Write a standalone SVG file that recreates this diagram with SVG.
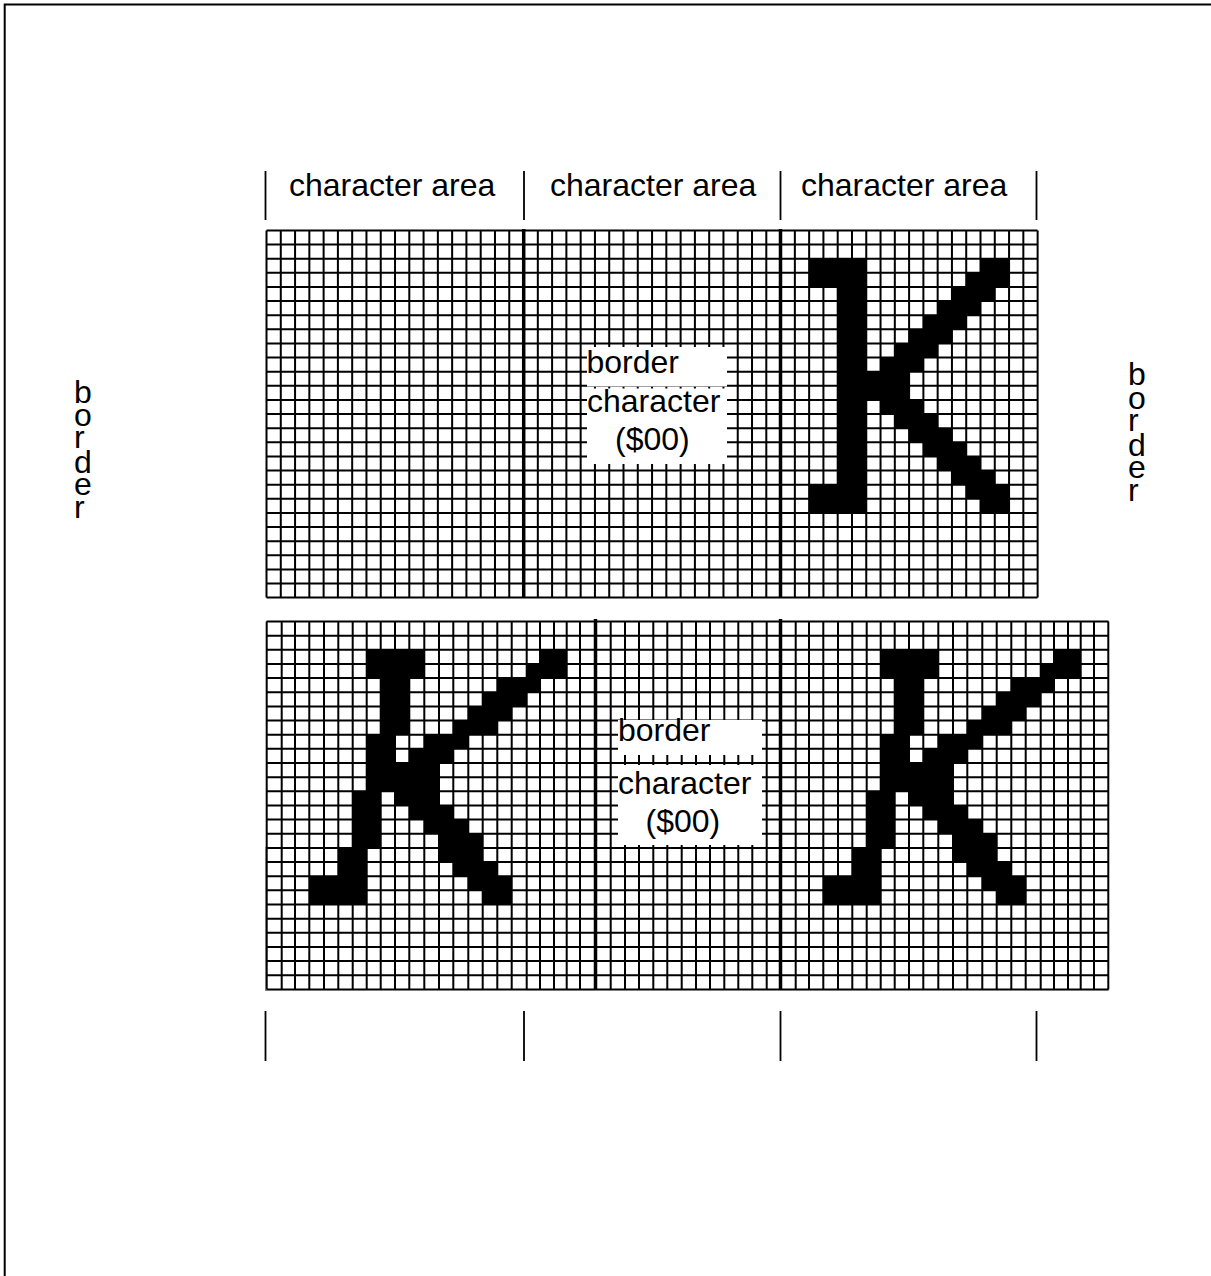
<svg xmlns="http://www.w3.org/2000/svg" width="1211" height="1276" viewBox="0 0 1211 1276">
<style>
text{font-family:"Liberation Sans",Arial,sans-serif;font-size:32px;fill:#000}
.grid{fill:none;stroke:#000;stroke-width:2}
.thick{fill:none;stroke:#000;stroke-width:3.5}
.tick{fill:none;stroke:#000;stroke-width:1.8}
</style>
<defs>
<path id="kTop" d="M4 2h2v18h-2zM2 2h4v2h-4zM2 18h4v2h-4zM14 2h2v1h-2zM13 3h3v1h-3zM12 4h3v1h-3zM11 5h3v1h-3zM10 6h3v1h-3zM9 7h3v1h-3zM8 8h3v1h-3zM7 9h3v1h-3zM4 10h5v2h-5zM7 12h3v1h-3zM8 13h3v1h-3zM9 14h3v1h-3zM10 15h3v1h-3zM11 16h3v1h-3zM12 17h3v1h-3zM13 18h3v1h-3zM14 19h2v1h-2z"/>
<path id="kSlant" d="M366.7 2H424.3V4H366.7zM540 2H566.7V3H540zM526.7 3H566.7V4H526.7zM380.7 4H409.3V8H380.7zM497.3 4H540V5H497.3zM482.7 5H526.7V6H482.7zM468.3 6H511.7V7H468.3zM453.3 7H497.3V8H453.3zM366.7 8H395V10H366.7zM424.3 8H468.3V9H424.3zM409.3 9H453.3V10H409.3zM366.7 10H439V12H366.7zM352.7 12H380.7V16H352.7zM395 12H439V13H395zM409.3 13H453.3V14H409.3zM424.3 14H468.3V15H424.3zM439 15H482.7V17H439zM338.3 16H366.7V18H338.3zM453.3 17H497.3V18H453.3zM309.3 18H366.7V20H309.3zM468.3 18H511.7V19H468.3zM482.7 19H511.7V20H482.7z"/>
</defs>
<path id="frame" d="M4.7 1276V4.5H1211" fill="none" stroke="#000" stroke-width="2"/>
<g id="top-grid">
<path class="grid" d="M266.5 230.5v367
m14.28-367v367m14.28-367v367m14.28-367v367m14.28-367v367m14.28-367v367m14.28-367v367m14.28-367v367m14.28-367v367m14.28-367v367
m14.28-367v367m14.28-367v367m14.28-367v367m14.28-367v367m14.28-367v367m14.28-367v367m14.28-367v367m14.28-367v367m14.28-367v367
m14.28-367v367m14.28-367v367m14.28-367v367m14.28-367v367m14.28-367v367m14.28-367v367m14.28-367v367m14.28-367v367m14.28-367v367
m14.28-367v367m14.28-367v367m14.28-367v367m14.28-367v367m14.28-367v367m14.28-367v367m14.28-367v367m14.28-367v367m14.28-367v367
m14.28-367v367m14.28-367v367m14.28-367v367m14.28-367v367m14.28-367v367m14.28-367v367m14.28-367v367m14.28-367v367m14.28-367v367
m14.28-367v367m14.28-367v367m14.28-367v367m14.28-367v367m14.28-367v367m14.28-367v367m14.28-367v367m14.28-367v367m14.28-367v367"/>
<path class="grid" d="M266.5 230.5h771
m-771 14.12h771m-771 14.12h771m-771 14.12h771m-771 14.12h771m-771 14.12h771m-771 14.12h771m-771 14.12h771m-771 14.12h771m-771 14.12h771m-771 14.12h771m-771 14.12h771m-771 14.12h771m-771 14.12h771
m-771 14.12h771m-771 14.12h771m-771 14.12h771m-771 14.12h771m-771 14.12h771m-771 14.12h771m-771 14.12h771m-771 14.12h771m-771 14.12h771m-771 14.12h771m-771 14.12h771m-771 14.12h771m-771 14.12h771"/>
<path class="thick" d="M523.7 229V598M780.5 229V598"/>
<use href="#kTop" transform="translate(780.5 230.5) scale(14.28 14.12)"/>
</g>
<g id="bottom-grid">
<path class="grid" d="M266.7 621.5V989.5M281.7 621.5V989.5M295 621.5V989.5M309.3 621.5V989.5M324 621.5V989.5M338.3 621.5V989.5M352.7 621.5V989.5M366.7 621.5V989.5M380.7 621.5V989.5M395 621.5V989.5M409.3 621.5V989.5M424.3 621.5V989.5M439 621.5V989.5M453.3 621.5V989.5M468.3 621.5V989.5M482.7 621.5V989.5M497.3 621.5V989.5M511.7 621.5V989.5M526.7 621.5V989.5M540 621.5V989.5M554 621.5V989.5M566.7 621.5V989.5M580 621.5V989.5M595 621.5V989.5
M610.7 621.5V989.5M625 621.5V989.5M639 621.5V989.5M653.3 621.5V989.5M667.3 621.5V989.5M681.7 621.5V989.5M696 621.5V989.5M710 621.5V989.5M724.3 621.5V989.5M738.3 621.5V989.5M752.3 621.5V989.5M766.7 621.5V989.5
M780.7 621.5V989.5M795.7 621.5V989.5M809 621.5V989.5M823.3 621.5V989.5M838 621.5V989.5M852.3 621.5V989.5M866.7 621.5V989.5M880.7 621.5V989.5M894.7 621.5V989.5M909 621.5V989.5M923.3 621.5V989.5M938.3 621.5V989.5M953 621.5V989.5M967.3 621.5V989.5M982.3 621.5V989.5M996.7 621.5V989.5M1011.3 621.5V989.5M1025.7 621.5V989.5M1040.7 621.5V989.5M1054 621.5V989.5M1068 621.5V989.5M1080.7 621.5V989.5M1094 621.5V989.5M1108.3 621.5V989.5"/>
<path class="grid" d="M266.5 621.5h842
m-842 14.15h842m-842 14.15h842m-842 14.15h842m-842 14.15h842m-842 14.15h842m-842 14.15h842m-842 14.15h842m-842 14.15h842m-842 14.15h842m-842 14.15h842m-842 14.15h842m-842 14.15h842m-842 14.15h842
m-842 14.15h842m-842 14.15h842m-842 14.15h842m-842 14.15h842m-842 14.15h842m-842 14.15h842m-842 14.15h842m-842 14.15h842m-842 14.15h842m-842 14.15h842m-842 14.15h842m-842 14.15h842m-842 14.15h842"/>
<path d="M265.5 847V990.5H367M525 990.5H595M780 990.5H881M1040 990.5H1108.5" fill="none" stroke="#777" stroke-width="1"/>
<path class="thick" d="M595.5 619V990M780.5 619V990"/>
<use href="#kSlant" transform="translate(0 621.5) scale(1 14.15)"/>
<use href="#kSlant" transform="translate(514 621.5) scale(1 14.15)"/>
</g>
<g id="ticks">
<path class="tick" d="M265.5 171V220M524 171V220M780.5 171V220M1036.5 171V220M265.5 1011V1061M524 1011V1061M780.5 1011V1061M1036.5 1011V1061"/>
</g>
<g id="top-label">
<rect x="587" y="347" width="140" height="39.5" fill="#fff"/>
<rect x="587" y="388.5" width="140" height="75.5" fill="#fff"/>
<text x="586.5" y="373">border</text>
<text x="587" y="412">character</text>
<text x="615" y="450">($00)</text>
</g>
<g id="bottom-label">
<rect x="618" y="720" width="144" height="35" fill="#fff"/>
<rect x="618" y="765" width="144" height="80" fill="#fff"/>
<text x="618" y="741">border</text>
<text x="618" y="794">character</text>
<text x="645.5" y="832">($00)</text>
</g>
<g id="area-labels">
<text x="289" y="196">character area</text>
<text x="550" y="196">character area</text>
<text x="801" y="196">character area</text>
</g>
<g id="border-left">
<text x="74 74 74 74 74 74" y="403 426 448 473 495 518">border</text>
</g>
<g id="border-right">
<text x="1128 1128 1128 1128 1128 1128" y="385 409 431 456 478 501">border</text>
</g>
</svg>
